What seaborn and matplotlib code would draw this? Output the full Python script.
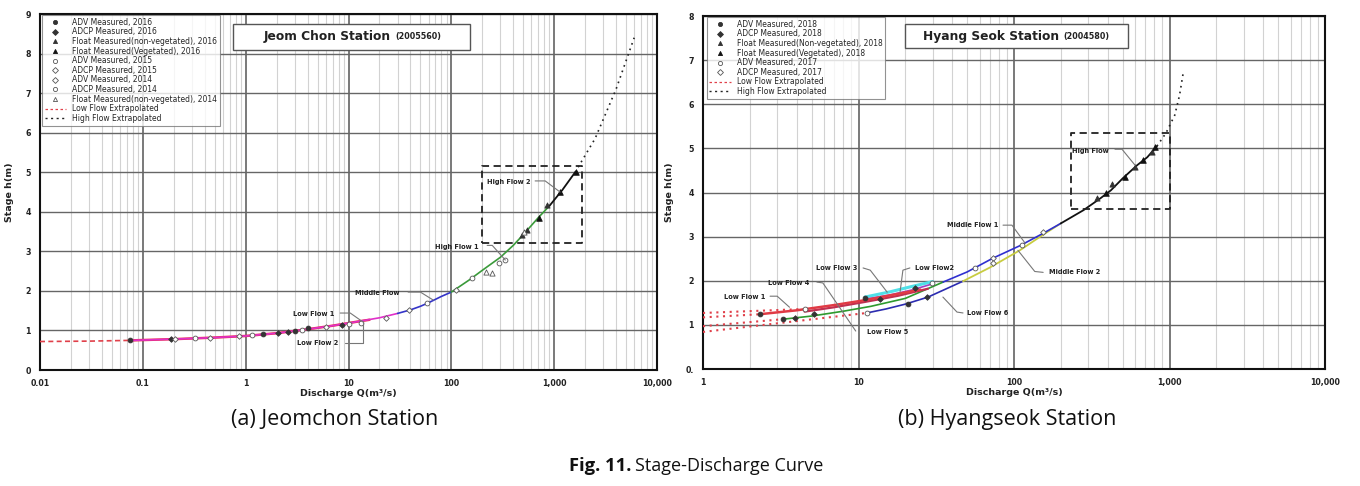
import numpy as np
import pandas as pd
import matplotlib
matplotlib.use("Agg")
import matplotlib.pyplot as plt
import seaborn as sns
from matplotlib.lines import Line2D
from matplotlib.patches import Rectangle

sns.set_theme(style="white")
plt.rcParams["font.family"] = ["DejaVu Sans"]

# ===================== DATA : Jeom Chon (a) =====================
jc_xticks = [0.01, 0.1, 1, 10, 100, 1000, 10000]
jc_xticklabels = ["0.01", "0.1", "1", "10", "100", "1,000", "10,000"]
jc_yticks = [0, 1, 2, 3, 4, 5, 6, 7, 8, 9]
jc_yticklabels = ["0", "1", "2", "3", "4", "5", "6", "7", "8", "9"]

# rating curve segments (Q m3/s, h m)
jc_lowext_q = [0.01, 0.03, 0.08]
jc_lowext_h = [0.72, 0.73, 0.75]
jc_low1_q = [0.08, 0.2, 0.5, 1, 2, 4, 7, 12, 20, 30]
jc_low1_h = [0.75, 0.78, 0.82, 0.86, 0.93, 1.03, 1.12, 1.22, 1.32, 1.43]
jc_low2_q = [0.08, 0.2, 0.5, 1, 2, 4, 7, 12, 16]
jc_low2_h = [0.75, 0.78, 0.82, 0.86, 0.93, 1.03, 1.12, 1.22, 1.27]
jc_mid_q = [30, 40, 50, 60, 80, 100]
jc_mid_h = [1.43, 1.52, 1.61, 1.70, 1.86, 1.97]
jc_high1_q = [100, 150, 200, 300, 400, 500, 700, 900]
jc_high1_h = [1.97, 2.28, 2.52, 2.85, 3.15, 3.42, 3.85, 4.15]
jc_high2_q = [900, 1200, 1600]
jc_high2_h = [4.15, 4.55, 5.00]
jc_highext_q = [1600, 2500, 4000, 6000]
jc_highext_h = [5.00, 5.85, 7.10, 8.40]

# measured points
jc_adv16_q = [0.075, 1.46, 4.0, 3.0]
jc_adv16_h = [0.76, 0.90, 1.06, 0.99]
jc_adcp16_q = [0.19, 2.05, 8.7, 2.6]
jc_adcp16_h = [0.79, 0.94, 1.14, 0.97]
jc_fnv16_q = [490, 545, 860]
jc_fnv16_h = [3.42, 3.54, 4.18]
jc_fv16_q = [710, 1130, 1636]
jc_fv16_h = [3.85, 4.50, 5.01]
jc_adv15_q = [0.32, 1.16, 13.3, 3.5]
jc_adv15_h = [0.81, 0.88, 1.19, 1.01]
jc_adcp15_q = [0.45, 6.0, 23, 0.205]
jc_adcp15_h = [0.82, 1.09, 1.31, 0.79]
jc_adv14_q = [0.87, 39, 112]
jc_adv14_h = [0.86, 1.52, 2.02]
jc_adcp14_q = [58, 160, 290, 330, 10.2]
jc_adcp14_h = [1.69, 2.33, 2.71, 2.78, 1.16]
jc_fnv14_q = [215, 250, 510]
jc_fnv14_h = [2.48, 2.46, 3.50]

jc_box_q = [200, 1860]
jc_box_h = [3.20, 5.16]

# ===================== DATA : Hyang Seok (b) =====================
hs_xticks = [1, 10, 100, 1000, 10000]
hs_xticklabels = ["1", "10", "100", "1,000", "10,000"]
hs_yticks = [0, 1, 2, 3, 4, 5, 6, 7, 8]
hs_yticklabels = ["0.", "1", "2", "3", "4", "5", "6", "7", "8"]

hs_ext1_q = [1, 2.3]
hs_ext1_h = [1.17, 1.24]
hs_ext2_q = [1, 4.5]
hs_ext2_h = [1.27, 1.36]
hs_ext3_q = [1, 3.3]
hs_ext3_h = [0.97, 1.13]
hs_ext4_q = [1, 11.3]
hs_ext4_h = [0.84, 1.27]

hs_low1_q = [2.3, 4, 7, 11, 16, 25]
hs_low1_h = [1.24, 1.33, 1.45, 1.56, 1.67, 1.80]
hs_low4_q = [4.5, 7, 11, 18, 28]
hs_low4_h = [1.30, 1.40, 1.52, 1.66, 1.82]
hs_low3_q = [11, 16, 22, 30]
hs_low3_h = [1.63, 1.75, 1.87, 1.98]
hs_low2_q = [11, 16, 22, 30]
hs_low2_h = [1.58, 1.68, 1.79, 1.93]
hs_low5_q = [3.3, 5, 8, 12, 20, 35]
hs_low5_h = [1.13, 1.20, 1.31, 1.42, 1.60, 1.97]
hs_low6_q = [11.3, 15, 20, 28, 47]
hs_low6_h = [1.27, 1.36, 1.47, 1.63, 1.99]
hs_mid1_q = [35, 50, 73, 110, 155, 200]
hs_mid1_h = [1.97, 2.20, 2.51, 2.80, 3.08, 3.30]
hs_mid2_q = [47, 70, 109, 155, 200]
hs_mid2_h = [1.99, 2.30, 2.69, 3.05, 3.30]
hs_high_q = [200, 280, 360, 420, 500, 620, 720, 830]
hs_high_h = [3.30, 3.60, 3.87, 4.05, 4.32, 4.62, 4.80, 5.05]
hs_highext_q = [830, 950, 1080, 1160, 1230]
hs_highext_h = [5.05, 5.35, 5.75, 6.20, 6.75]

hs_adv18_q = [2.33, 3.27, 11, 20.8]
hs_adv18_h = [1.24, 1.13, 1.61, 1.47]
hs_adcp18_q = [3.9, 5.2, 13.7, 27.6, 23]
hs_adcp18_h = [1.15, 1.24, 1.58, 1.63, 1.83]
hs_fnv18_q = [342, 425, 596, 770]
hs_fnv18_h = [3.87, 4.19, 4.57, 4.91]
hs_fv18_q = [393, 518, 675, 808]
hs_fv18_h = [4.00, 4.34, 4.73, 5.02]
hs_adv17_q = [4.5, 11.3, 29.7, 56, 112]
hs_adv17_h = [1.36, 1.27, 1.95, 2.28, 2.80]
hs_adcp17_q = [73, 73, 153]
hs_adcp17_h = [2.51, 2.40, 3.10]

hs_box_q = [233, 1007]
hs_box_h = [3.62, 5.34]

# annotation labels: text, text anchor (Q,h), leader polyline Q list, h list
jc_notes = [
    ("High Flow 2", (223, 4.75), [653, 818, 1140], [4.78, 4.78, 4.50]),
    ("High Flow 1", (69.5, 3.11), [223, 250, 335], [3.15, 3.15, 2.78]),
    ("Middle Flow", (11.6, 1.95), [38, 50, 66.5], [1.97, 1.97, 1.77]),
    ("Low Flow 1", (2.89, 1.42), [8.3, 10.4, 13.9], [1.44, 1.44, 1.21]),
    ("Low Flow 2", (3.16, 0.68), [9.3, 13.9, 13.9], [0.68, 0.68, 1.19]),
]
hs_notes = [
    ("High Flow", (236, 4.95), [446, 495, 600], [4.98, 4.98, 4.62]),
    ("Middle Flow 1", (37, 3.26), [85, 97, 118], [3.26, 3.26, 2.85]),
    ("Middle Flow 2", (168, 2.19), [154, 136, 106], [2.19, 2.21, 2.69]),
    ("Low Flow 3", (5.3, 2.29), [10.7, 11.9, 15.3], [2.29, 2.24, 1.74]),
    ("Low Flow2", (23.1, 2.29), [21.4, 19.3, 18.5], [2.29, 2.24, 1.74]),
    ("Low Flow 4", (2.62, 1.95), [5.4, 5.9, 9.6], [1.97, 1.95, 0.86]),
    ("Low Flow 1", (1.37, 1.63), [2.7, 3.0, 3.6], [1.65, 1.65, 1.40]),
    ("Low Flow 6", (49.9, 1.27), [47, 43, 34.9], [1.27, 1.29, 1.63]),
    ("Low Flow 5", (11.3, 0.84), [], []),
]

# ===================== STYLE =====================
DARK = "#333333"
RED = "#e0404a"
mk_filled_circle = dict(marker="o", s=12, color=DARK, edgecolor=DARK)
mk_filled_diam = dict(marker="D", s=8, color=DARK, edgecolor=DARK)
mk_filled_tri = dict(marker="^", s=14, color=DARK, edgecolor=DARK)
mk_filled_tri2 = dict(marker="^", s=16, color="#111111", edgecolor="#111111")
mk_open_circle = dict(marker="o", s=12, color="white", edgecolor="#555555")
mk_open_diam = dict(marker="D", s=8, color="white", edgecolor="#555555")
mk_open_tri = dict(marker="^", s=14, color="white", edgecolor="#555555")

fig = plt.figure(figsize=(13.6, 4.86), dpi=100)
axL = fig.add_axes([40 / 1360, 1 - 370 / 486, 617 / 1360, 356 / 486])
axR = fig.add_axes([703 / 1360, 1 - 369 / 486, 622 / 1360, 353 / 486])


def line(ax, q, h, color, lw=1.0, ls="-", z=3):
    df = pd.DataFrame({"Q": q, "h": h})
    sns.lineplot(data=df, x="Q", y="h", ax=ax, color=color, linewidth=lw,
                 linestyle=ls, sort=False, estimator=None, legend=False, zorder=z)


def pts(ax, q, h, st):
    df = pd.DataFrame({"Q": q, "h": h})
    sns.scatterplot(data=df, x="Q", y="h", ax=ax, linewidth=0.6, legend=False,
                    zorder=6, **st)


def style_axes(ax, xlim, ylim, xticks, xtl, yticks, ytl):
    ax.set_xscale("log")
    ax.set_xlim(*xlim)
    ax.set_ylim(*ylim)
    ax.set_axisbelow(True)
    ax.grid(which="major", axis="x", color="#555555", lw=1.1)
    ax.grid(which="minor", axis="x", color="#d2d2d2", lw=0.8)
    ax.grid(which="major", axis="y", color="#666666", lw=1.0)
    ax.set_xticks(xticks)
    ax.set_xticklabels(xtl)
    ax.set_yticks(yticks)
    ax.set_yticklabels(ytl)
    ax.tick_params(axis="both", which="major", direction="inout", length=7,
                   width=0.8, color="#444444", labelsize=5.7, pad=3)
    ax.tick_params(axis="x", which="minor", length=0)
    for t in ax.get_xticklabels() + ax.get_yticklabels():
        t.set_fontweight("bold")
        t.set_color("#222222")
    for sp in ax.spines.values():
        sp.set_color("#111111")
        sp.set_linewidth(1.5)
    ax.set_xlabel("Discharge Q(m\u00b3/s)", fontsize=6.8, fontweight="bold",
                  labelpad=1, color="#222222")
    ax.set_ylabel("Stage h(m)", fontsize=6.8, fontweight="bold", labelpad=8,
                  color="#222222")


def dashed_box(ax, bq, bh):
    qs = [bq[0], bq[1], bq[1], bq[0], bq[0]]
    hs = [bh[0], bh[0], bh[1], bh[1], bh[0]]
    ax.plot(qs, hs, color="#222222", lw=1.3, ls=(0, (4, 2.5)), zorder=4)


def notes(ax, items):
    for txt, (tq, th), lq, lh in items:
        ax.text(tq, th, txt, fontsize=4.8, fontweight="bold", color="#222222",
                ha="left", va="center", zorder=7)
        if lq:
            ax.plot(lq, lh, color="#777777", lw=0.8, zorder=7)


def station_box(ax, x0, x1, y0, y1, name, code, split):
    ax.add_patch(Rectangle((x0, y0), x1 - x0, y1 - y0, transform=ax.transAxes,
                           facecolor="white", edgecolor="#555555", lw=1.0, zorder=8))
    ym = (y0 + y1) / 2
    ax.text(split, ym, name, transform=ax.transAxes, ha="right", va="center",
            fontsize=8.8, fontweight="bold", color="#222222", zorder=9)
    ax.text(split + 0.008, ym, code, transform=ax.transAxes, ha="left", va="center",
            fontsize=5.8, fontweight="bold", color="#222222", zorder=9)


def legend_handle(st):
    return Line2D([], [], ls="none", marker=st["marker"], markersize=3.0,
                  markerfacecolor=st["color"], markeredgecolor=st["edgecolor"],
                  markeredgewidth=0.6)


# ---------------- panel (a) ----------------
style_axes(axL, (0.01, 10000), (0, 9), jc_xticks, jc_xticklabels, jc_yticks, jc_yticklabels)
line(axL, jc_lowext_q, jc_lowext_h, RED, 1.2, (0, (3, 2)))
line(axL, jc_low2_q, jc_low2_h, "#e8304a", 1.8)
line(axL, jc_low1_q, jc_low1_h, "#e030c8", 1.2)
line(axL, jc_mid_q, jc_mid_h, "#3434c8", 1.2)
line(axL, jc_high1_q, jc_high1_h, "#3a9a3a", 1.2)
line(axL, jc_high2_q, jc_high2_h, "#111111", 1.3)
line(axL, jc_highext_q, jc_highext_h, "#222222", 1.2, (0, (1, 2.5)))
pts(axL, jc_adv16_q, jc_adv16_h, mk_filled_circle)
pts(axL, jc_adcp16_q, jc_adcp16_h, mk_filled_diam)
pts(axL, jc_fnv16_q, jc_fnv16_h, mk_filled_tri)
pts(axL, jc_fv16_q, jc_fv16_h, mk_filled_tri2)
pts(axL, jc_adv15_q, jc_adv15_h, mk_open_circle)
pts(axL, jc_adcp15_q, jc_adcp15_h, mk_open_diam)
pts(axL, jc_adv14_q, jc_adv14_h, mk_open_diam)
pts(axL, jc_adcp14_q, jc_adcp14_h, mk_open_circle)
pts(axL, jc_fnv14_q, jc_fnv14_h, mk_open_tri)
dashed_box(axL, jc_box_q, jc_box_h)
notes(axL, jc_notes)
station_box(axL, 0.313, 0.697, 0.899, 0.972, "Jeom Chon Station", "(2005560)", 0.568)

jc_handles = [
    legend_handle(mk_filled_circle), legend_handle(mk_filled_diam),
    legend_handle(mk_filled_tri), legend_handle(mk_filled_tri2),
    legend_handle(mk_open_circle), legend_handle(mk_open_diam),
    legend_handle(mk_open_diam), legend_handle(mk_open_circle),
    legend_handle(mk_open_tri),
    Line2D([], [], color=RED, lw=0.9, ls=(0, (2, 2))),
    Line2D([], [], color="#222222", lw=1.0, ls=(0, (1.5, 2.5))),
]
jc_labels = ["ADV Measured, 2016", "ADCP Measured, 2016",
             "Float Measured(non-vegetated), 2016", "Float Measured(Vegetated), 2016",
             "ADV Measured, 2015", "ADCP Measured, 2015", "ADV Measured, 2014",
             "ADCP Measured, 2014", "Float Measured(non-vegetated), 2014",
             "Low Flow Extrapolated", "High Flow Extrapolated"]
legL = axL.legend(jc_handles, jc_labels, loc="upper left", bbox_to_anchor=(0.003, 0.997),
                  fontsize=5.5, labelspacing=0.08, handlelength=2.8, handletextpad=0.8,
                  borderpad=0.35, frameon=True, fancybox=False, borderaxespad=0)
legL.get_frame().set_edgecolor("#777777")
legL.get_frame().set_linewidth(0.8)
legL.set_zorder(10)

# ---------------- panel (b) ----------------
style_axes(axR, (1, 10000), (0, 8), hs_xticks, hs_xticklabels, hs_yticks, hs_yticklabels)
for eq, eh in [(hs_ext1_q, hs_ext1_h), (hs_ext2_q, hs_ext2_h),
               (hs_ext3_q, hs_ext3_h), (hs_ext4_q, hs_ext4_h)]:
    line(axR, eq, eh, RED, 1.5, (0, (1, 2.2)))
line(axR, hs_low5_q, hs_low5_h, "#2e9a2e", 1.2)
line(axR, hs_low6_q, hs_low6_h, "#2c2cb0", 1.2)
line(axR, hs_mid2_q, hs_mid2_h, "#c8cc40", 1.3)
line(axR, hs_mid1_q, hs_mid1_h, "#3030d0", 1.2)
line(axR, hs_low3_q, hs_low3_h, "#50e0e8", 2.2)
line(axR, hs_low2_q, hs_low2_h, "#a040c0", 1.2)
line(axR, hs_low4_q, hs_low4_h, "#c03050", 1.6)
line(axR, hs_low1_q, hs_low1_h, "#e03a44", 1.8)
line(axR, hs_high_q, hs_high_h, "#111111", 1.3)
line(axR, hs_highext_q, hs_highext_h, "#222222", 1.2, (0, (1, 2.5)))
pts(axR, hs_adv18_q, hs_adv18_h, mk_filled_circle)
pts(axR, hs_adcp18_q, hs_adcp18_h, mk_filled_diam)
pts(axR, hs_fnv18_q, hs_fnv18_h, mk_filled_tri)
pts(axR, hs_fv18_q, hs_fv18_h, mk_filled_tri2)
pts(axR, hs_adv17_q, hs_adv17_h, mk_open_circle)
pts(axR, hs_adcp17_q, hs_adcp17_h, mk_open_diam)
dashed_box(axR, hs_box_q, hs_box_h)
notes(axR, hs_notes)
station_box(axR, 0.325, 0.683, 0.909, 0.977, "Hyang Seok Station", "(2004580)", 0.572)

hs_handles = [
    legend_handle(mk_filled_circle), legend_handle(mk_filled_diam),
    legend_handle(mk_filled_tri), legend_handle(mk_filled_tri2),
    legend_handle(mk_open_circle), legend_handle(mk_open_diam),
    Line2D([], [], color=RED, lw=0.9, ls=(0, (2, 2))),
    Line2D([], [], color="#222222", lw=1.0, ls=(0, (1.5, 2.5))),
]
hs_labels = ["ADV Measured, 2018", "ADCP Measured, 2018",
             "Float Measured(Non-vegetated), 2018", "Float Measured(Vegetated), 2018",
             "ADV Measured, 2017", "ADCP Measured, 2017",
             "Low Flow Extrapolated", "High Flow Extrapolated"]
legR = axR.legend(hs_handles, hs_labels, loc="upper left", bbox_to_anchor=(0.006, 0.997),
                  fontsize=5.5, labelspacing=0.08, handlelength=2.8, handletextpad=0.8,
                  borderpad=0.35, frameon=True, fancybox=False, borderaxespad=0)
legR.get_frame().set_edgecolor("#777777")
legR.get_frame().set_linewidth(0.8)
legR.set_zorder(10)

# ---------------- captions ----------------
cap_font = ["Open Sans", "DejaVu Sans"]
fig.text(335 / 1360, 1 - 419 / 486, "(a) Jeomchon Station", ha="center", va="center",
         fontsize=15.5, family=cap_font, color="#111111")
fig.text(1007 / 1360, 1 - 419 / 486, "(b) Hyangseok Station", ha="center", va="center",
         fontsize=15.5, family=cap_font, color="#111111")
fig.text(631 / 1360, 1 - 466 / 486, "Fig. 11.", ha="right", va="center",
         fontsize=13.2, family=cap_font, fontweight="bold", color="#111111")
fig.text(635 / 1360, 1 - 466 / 486, "Stage-Discharge Curve", ha="left", va="center",
         fontsize=13, family=cap_font, color="#111111")

fig.savefig("out.png", dpi=100, facecolor="white")
